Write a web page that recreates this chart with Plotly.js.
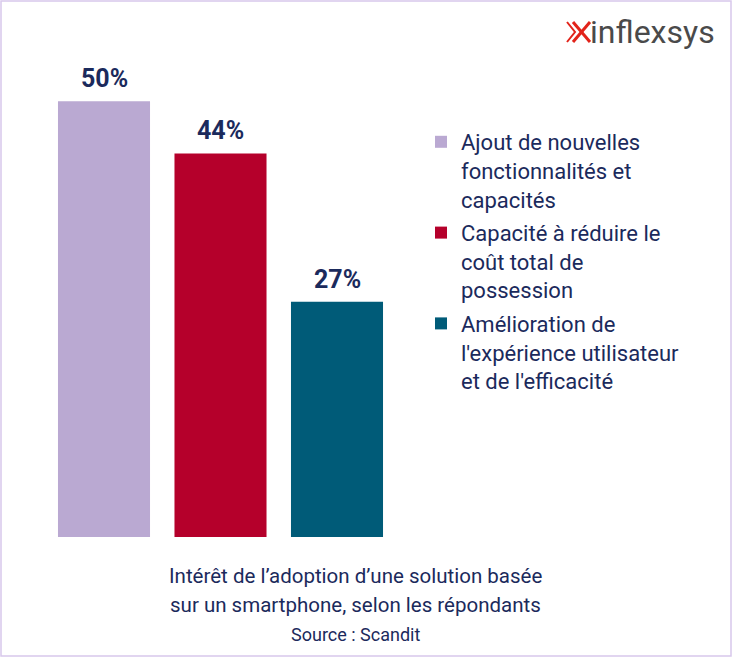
<!DOCTYPE html>
<html>
<head>
<meta charset="utf-8">
<script src="https://cdn.plot.ly/plotly-3.0.1.min.js"></script>
<style>html,body{margin:0;padding:0;background:#fff;}#chart{width:732px;height:657px;}</style>
</head>
<body>
<div id="chart"></div>
<script>
const categories = ["Ajout", "Coût", "Expérience"];
const seriesNames = [
  "Ajout de nouvelles<br>fonctionnalités et<br>capacités",
  "Capacité à réduire le<br>coût total de<br>possession",
  "Amélioration de<br>l'expérience utilisateur<br>et de l'efficacité"
];
const values = [50, 44, 27];
const valueLabels = ["50%", "44%", "27%"];
const colors = ["#baa9d2", "#b5002b", "#005b78"];

const W = 732, H = 657;
const navy = "#1b2a5c";

const traces = categories.map((c, i) => ({
  type: "bar",
  x: [c],
  y: [values[i]],
  name: seriesNames[i],
  legendgroup: "g" + i,
  marker: {color: colors[i]},
  width: 0.79,
  hoverinfo: "skip"
}));

const px = v => v / W;
const py = v => 1 - v / H;

const labelAnnotations = categories.map((c, i) => ({
  xref: "x", yref: "y", x: c, y: values[i],
  text: valueLabels[i], showarrow: false,
  xanchor: "center", yanchor: "bottom", yshift: 6,
  font: {family: "Roboto", size: 25, color: navy, weight: "bold"}
}));

const layout = {
  width: W, height: H,
  margin: {l: 0, r: 0, t: 0, b: 0},
  paper_bgcolor: "#ffffff",
  plot_bgcolor: "#ffffff",
  font: {family: "Roboto", color: navy},
  barmode: "overlay",
  showlegend: true,
  xaxis: {
    domain: [45.75 / W, 395.25 / W],
    range: [-0.5, 2.5],
    type: "category",
    showticklabels: false, showgrid: false, zeroline: false, showline: false, ticks: ""
  },
  yaxis: {
    domain: [(H - 537) / H, (H - 14) / H],
    range: [0, 60],
    showticklabels: false, showgrid: false, zeroline: false, showline: false, ticks: ""
  },
  legend: {
    x: px(421), y: py(121), xanchor: "left", yanchor: "top",
    font: {family: "Roboto", size: 22, color: navy},
    valign: "top",
    tracegroupgap: 2,
    itemclick: false, itemdoubleclick: false,
    bgcolor: "rgba(0,0,0,0)"
  },
  annotations: labelAnnotations.concat([
    {xref: "paper", yref: "paper", x: px(355), y: py(576), text: "Intérêt de l’adoption d’une solution basée",
     showarrow: false, font: {family: "Roboto", size: 20.5, color: navy}, xanchor: "center", yanchor: "middle"},
    {xref: "paper", yref: "paper", x: px(355), y: py(605), text: "sur un smartphone, selon les répondants",
     showarrow: false, font: {family: "Roboto", size: 20.5, color: navy}, xanchor: "center", yanchor: "middle"},
    {xref: "paper", yref: "paper", x: px(355), y: py(634), text: "Source : Scandit",
     showarrow: false, font: {family: "Roboto", size: 18, color: navy}, xanchor: "center", yanchor: "middle"},
    {xref: "paper", yref: "paper", x: px(588), y: py(32), text: "inflexsys",
     showarrow: false, font: {family: "Roboto", size: 32, color: "#4a4a4a"}, xanchor: "left", yanchor: "middle"}
  ]),
  shapes: [
    {type: "rect", xref: "paper", yref: "paper", x0: px(1), x1: px(731), y0: py(656), y1: py(1),
     line: {color: "#d8c8ec", width: 1.5}, fillcolor: "rgba(0,0,0,0)", layer: "above"},
    {type: "path", xref: "paper", yref: "paper",
     path: `M${px(573)},${py(22)} L${px(590)},${py(42)}`,
     line: {color: "#e2231a", width: 3}},
    {type: "path", xref: "paper", yref: "paper",
     path: `M${px(590)},${py(22)} L${px(573)},${py(42)}`,
     line: {color: "#e2231a", width: 3}},
    {type: "path", xref: "paper", yref: "paper",
     path: `M${px(567)},${py(22)} L${px(575)},${py(32)} L${px(567)},${py(42)}`,
     line: {color: "#e2231a", width: 2}}
  ]
};

Plotly.newPlot("chart", traces, layout, {displayModeBar: false, staticPlot: true});
</script>
</body>
</html>
